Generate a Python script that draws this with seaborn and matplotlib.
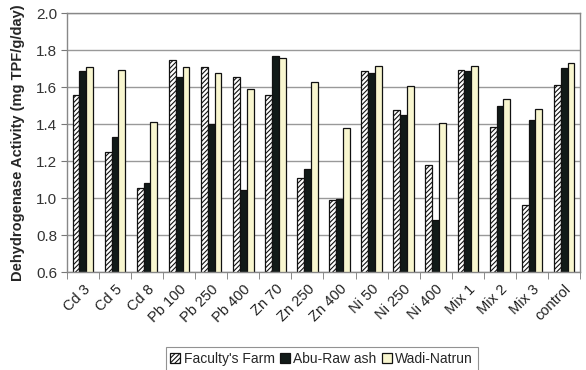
import matplotlib
matplotlib.use("Agg")
import matplotlib.pyplot as plt
import seaborn as sns
import pandas as pd

treatments = ["Cd 3", "Cd 5", "Cd 8", "Pb 100", "Pb 250", "Pb 400", "Zn 70",
              "Zn 250", "Zn 400", "Ni 50", "Ni 250", "Ni 400", "Mix 1", "Mix 2",
              "Mix 3", "control"]
faculty_farm = [1.557, 1.25, 1.055, 1.749, 1.71, 1.656, 1.557, 1.11, 0.99,
                1.686, 1.475, 1.18, 1.695, 1.387, 0.962, 1.613]
abu_rawash = [1.686, 1.331, 1.085, 1.656, 1.40, 1.045, 1.77, 1.159, 0.995,
              1.677, 1.45, 0.883, 1.686, 1.50, 1.424, 1.704]
wadi_natrun = [1.71, 1.695, 1.41, 1.71, 1.677, 1.59, 1.758, 1.627, 1.38,
               1.713, 1.605, 1.407, 1.713, 1.538, 1.482, 1.73]
sites = ["Faculty's Farm", "Abu-Raw ash", "Wadi-Natrun"]
y_ticks = [0.6, 0.8, 1.0, 1.2, 1.4, 1.6, 1.8, 2.0]

df = pd.DataFrame({
    "treatment": treatments * 3,
    "site": [s for s in sites for _ in treatments],
    "value": faculty_farm + abu_rawash + wadi_natrun,
})

sns.set_style("white")
plt.rcParams["font.family"] = ["Liberation Sans", "DejaVu Sans"]
plt.rcParams["hatch.linewidth"] = 0.8

fig = plt.figure(figsize=(5.86, 3.70), dpi=100)
ax = fig.add_axes([0.114, 0.264, 0.876, 0.700])

palette = {sites[0]: "#ffffff", sites[1]: "#111a18", sites[2]: "#f8f6cf"}
sns.barplot(data=df, x="treatment", y="value", hue="site", palette=palette,
            hue_order=sites, order=treatments, width=0.64, gap=0,
            edgecolor="#111111", linewidth=0.9, legend=False, ax=ax,
            saturation=1)

for bar in ax.containers[0]:
    bar.set_hatch("///////")

ax.set_ylim(0.6, 2.0)
ax.set_yticks(y_ticks)
ax.set_yticklabels([f"{t:.1f}" for t in y_ticks], fontsize=11, color="#333333")
ax.set_xlim(-0.5, len(treatments) - 0.5)
ax.set_xticks(range(len(treatments)))
ax.set_xticklabels(treatments, rotation=45, ha="right", rotation_mode="anchor",
                   fontsize=10.5, color="#222222")
ax.tick_params(axis="x", length=0, pad=7)
ax.tick_params(axis="y", length=4, color="#777777", left=True, pad=3)

# category separators on the x axis
ax.set_xticks([i - 0.5 for i in range(len(treatments) + 1)], minor=True)
ax.tick_params(axis="x", which="minor", length=5, color="#777777", bottom=True)

ax.yaxis.grid(True, color="#999999", linewidth=1)
ax.set_axisbelow(True)
for side in ["top", "right", "left", "bottom"]:
    ax.spines[side].set_visible(True)
    ax.spines[side].set_color("#888888")
    ax.spines[side].set_linewidth(1)

ax.set_xlabel("")
ax.set_ylabel("Dehydrogenase Activity (mg TPF/g/day)", fontsize=10.5,
              fontweight="bold", labelpad=8)

leg = fig.legend(ax.containers, sites, loc="lower center",
                 bbox_to_anchor=(0.549, -0.01), ncol=3, frameon=True,
                 fancybox=False, edgecolor="#777777", fontsize=10,
                 handlelength=0.7, handleheight=0.7, handletextpad=0.25,
                 columnspacing=0.4, borderpad=0.35, borderaxespad=0.2)
leg.get_frame().set_linewidth(0.8)

fig.savefig("out.png", dpi=100)
